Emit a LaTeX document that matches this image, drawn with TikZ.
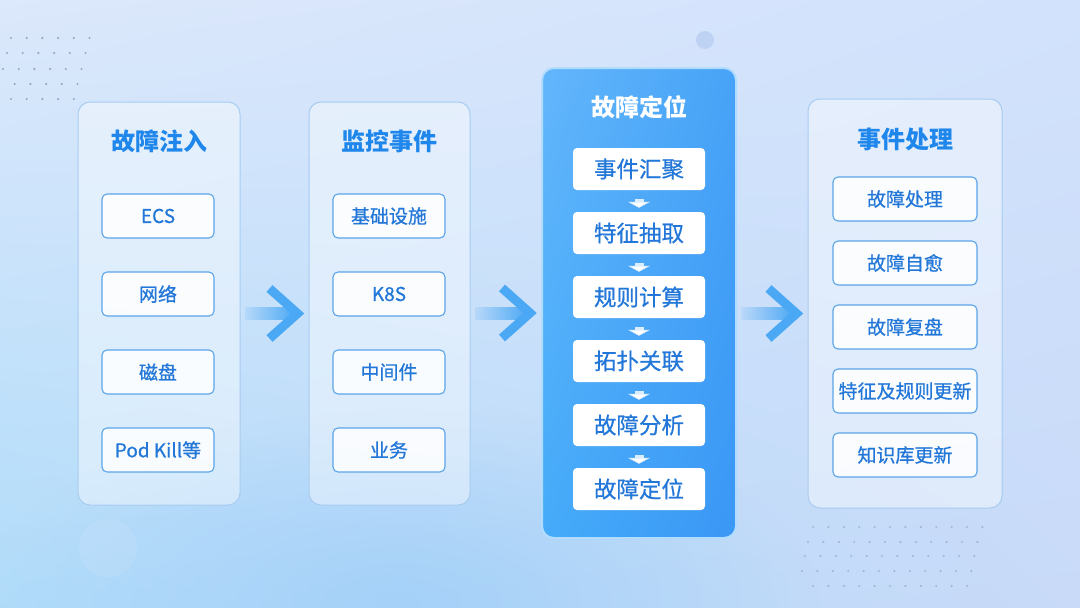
\documentclass[tikz,border=0pt]{standalone}
\usepackage{fontspec}
\setmainfont{Noto Sans CJK SC}
\newfontfamily\itemfont[FakeBold=0.7]{Noto Sans CJK SC}
\usetikzlibrary{arrows.meta,calc,fadings,shadings}
\definecolor{bgtl}{HTML}{DCE8FB}
\definecolor{bgtr}{HTML}{D2E2FC}
\definecolor{bgbl}{HTML}{B0DCFA}
\definecolor{bgbr}{HTML}{C8DAF8}
\definecolor{bgblob}{HTML}{9ECDF8}
\definecolor{dotc}{HTML}{97A8C2}
\definecolor{bubble}{HTML}{BED3F4}
\definecolor{panelline}{HTML}{A8CCF0}
\definecolor{titleblue}{HTML}{1F87EC}
\definecolor{itemline}{HTML}{5AA4E9}
\definecolor{itemtext}{HTML}{2277D8}
\definecolor{flowtl}{HTML}{63B6FB}
\definecolor{flowtr}{HTML}{47A3F7}
\definecolor{flowbl}{HTML}{45ABF9}
\definecolor{flowbr}{HTML}{3A97F5}
\definecolor{flowline}{HTML}{B2DCFF}
\definecolor{arrowblue}{HTML}{4BA8F5}
\tikzfading[name=shaftfade,left color=transparent!88,right color=transparent!5]
\tikzfading[name=softblob,inner color=transparent!25,outer color=transparent!100]

\begin{document}
\begin{tikzpicture}[x=1pt,y=-1pt,
    panel/.style={draw=panelline,line width=1pt,rounded corners=12pt,
                  fill=white,fill opacity=0.42},
    title/.style={text=titleblue,font=\bfseries\fontsize{24}{28}\selectfont},
    item/.style={draw=itemline,line width=1.1pt,rounded corners=5pt,
                 fill=white,fill opacity=0.85,text opacity=1,text=itemtext,
                 minimum width=112pt,minimum height=44pt,inner xsep=2pt,
                 font=\itemfont\fontsize{19}{22}\selectfont},
    flowitem/.style={fill=white,rounded corners=4pt,text=itemtext,
                 minimum width=132pt,minimum height=42pt,
                 font=\itemfont\fontsize{22.5}{26}\selectfont},
    shaft/.style={fill=arrowblue,path fading=shaftfade},
    chevron/.style={line width=9pt,draw=arrowblue,miter limit=10},
    flowarrow/.style={line width=9pt,draw=white,draw opacity=0.8,
                 -{Triangle[width=22pt,length=6pt]}}]
  \useasboundingbox (0,0) rectangle (1080,608);
  \begin{scope}
    \clip (0,0) rectangle (1080,608);
    \shade[upper left=bgtl,upper right=bgtr,lower left=bgbl,lower right=bgbr]
      (0,0) rectangle (1080,608);
    \fill[bgblob,path fading=softblob] (400,600) ellipse (420 and 190);
  \end{scope}

  \foreach \y/\x/\n in {38/11/5,53/7/5,69/3/5,84/-1/5,99/11/4}
    \foreach \c in {0,...,\n}
      \fill[dotc] ({\x+15.7*\c},\y) circle (1.2);
  \foreach \y/\x/\n in {527/813/11,542/808/11,556/805/11,571/802/11,586/813/10}
    \foreach \c in {0,...,\n}
      \fill[dotc,opacity=0.7] ({\x+15.4*\c},\y) circle (1.2);
  \fill[bubble] (705,40) circle (9);
  \fill[white,opacity=0.08] (108,548) circle (29);

  \node[panel,minimum width=162pt,minimum height=403pt] (p1) at (159,303.5) {};
  \node[panel,minimum width=161pt,minimum height=403pt] (p2) at (389.5,303.5) {};
  \node[draw=flowline,line width=2pt,rounded corners=12pt,
        upper left=flowtl,upper right=flowtr,lower left=flowbl,lower right=flowbr,
        minimum width=194pt,minimum height=470pt] (p3) at (639,303) {};
  \node[panel,minimum width=194pt,minimum height=409pt] (p4) at (905,303.5) {};

  \node[title] (t1) at ($(p1.north)+(0,40)$) {故障注入};
  \node[title] (t2) at ($(p2.north)+(0,40)$) {监控事件};
  \node[title,text=white] (t3) at ($(p3.north)+(0,40)$) {故障定位};
  \node[title] (t4) at ($(p4.north)+(0,41)$) {事件处理};

  \foreach \txt [count=\i] in {ECS,网络,磁盘,Pod Kill等}
    \node[item] (a\i) at (158,{138+78*\i}) {\txt};
  \foreach \txt [count=\i] in {基础设施,K8S,中间件,业务}
    \node[item] (b\i) at (389,{138+78*\i}) {\txt};
  \foreach \txt [count=\i] in {事件汇聚,特征抽取,规则计算,拓扑关联,故障分析,故障定位}
    \node[flowitem] (c\i) at (639,{105+64*\i}) {\txt};
  \foreach \txt [count=\i] in {故障处理,故障自愈,故障复盘,特征及规则更新,知识库更新}
    \node[item,minimum width=144pt] (d\i) at (905,{135+64*\i}) {\txt};

  \foreach \i/\j in {1/2,2/3,3/4,4/5,5/6}
    \draw[flowarrow] ($(c\i.south)+(0,9)$) -- ($(c\j.north)+(0,-4)$);

  \foreach \a/\b in {p1/p2,p2/p3,p3/p4} {
    \fill[shaft] ($(\a.east)+(4,3.5)$) rectangle ($(\b.west)+(-16,16.5)$);
    \draw[chevron] ($(\b.west)+(-39,-15)$) -- ($(\b.west)+(-11,10)$)
      -- ($(\b.west)+(-39,35)$);
  }
\end{tikzpicture}
\end{document}
